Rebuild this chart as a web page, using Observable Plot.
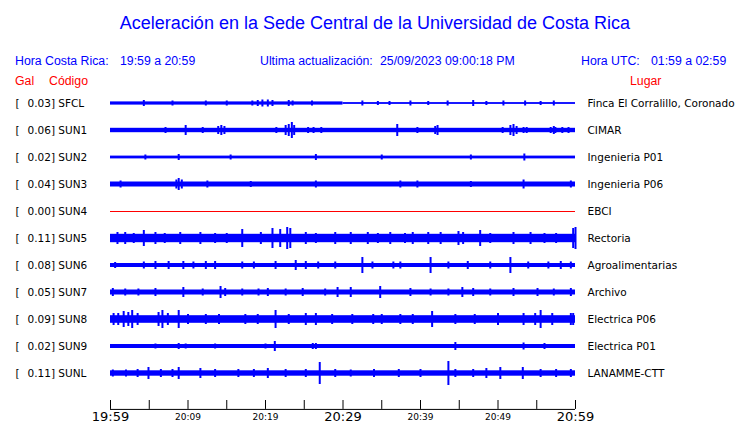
<!DOCTYPE html>
<html>
<head>
<meta charset="utf-8">
<script src="https://cdn.jsdelivr.net/npm/d3@7"></script>
<script src="https://cdn.jsdelivr.net/npm/@observablehq/plot@0.6"></script>
<style>
  html, body { margin: 0; padding: 0; background: #fff; }
  #wrap { position: relative; width: 740px; height: 423px; overflow: hidden; }
  #wrap svg { position: absolute; left: 0; top: 0; }
  .t { position: absolute; white-space: pre; font-family: "Liberation Sans", Arial, sans-serif; font-size: 12.3px; line-height: 14px; }
  .blue { color: #0000ff; }
  .red { color: #ff0000; }
</style>
</head>
<body>
<div id="wrap">
  <div class="t blue" style="left:0;width:750px;text-align:center;top:13px;font-size:18px;line-height:20px;">Aceleración en la Sede Central de la Universidad de Costa Rica</div>
  <div class="t blue" style="left:15px;top:54px;">Hora Costa Rica:</div>
  <div class="t blue" style="left:120px;top:54px;">19:59 a 20:59</div>
  <div class="t blue" style="left:260px;top:54px;">Ultima actualización:</div>
  <div class="t blue" style="left:380px;top:54px;">25/09/2023 09:00:18 PM</div>
  <div class="t blue" style="left:581px;top:54px;">Hora UTC:</div>
  <div class="t blue" style="left:651px;top:54px;">01:59 a 02:59</div>
  <div class="t red" style="left:15px;top:74px;">Gal</div>
  <div class="t red" style="left:49px;top:74px;">Código</div>
  <div class="t red" style="left:630px;top:74px;">Lugar</div>
</div>
<script>
// ---- data ----
const codes = ["SFCL","SUN1","SUN2","SUN3","SUN4","SUN5","SUN6","SUN7","SUN8","SUN9","SUNL"];
const gal = [0.03,0.06,0.02,0.04,0.00,0.11,0.08,0.05,0.09,0.02,0.11];
const places = ["Finca El Corralillo, Coronado","CIMAR","Ingenieria P01","Ingenieria P06","EBCI","Rectoria","Agroalimentarias","Archivo","Electrica P06","Electrica P01","LANAMME-CTT"];
// background amplitude segments: [station, startMinute, endMinute, halfAmplitude]
const baseSegments = [
  ["SFCL",0,30,1.6],["SFCL",30,60,0.9],
  ["SUN1",0,60,2.2],
  ["SUN2",0,60,1.4],
  ["SUN3",0,60,2.5],
  ["SUN5",0,60,4.2],
  ["SUN6",0,60,2.0],
  ["SUN7",0,60,2.5],
  ["SUN8",0,60,3.8],
  ["SUN9",0,60,2.0],
  ["SUNL",0,60,2.7]
];
// flat (dead) channels
const flatStations = ["SUN4"];
// bursts: [minute, amplitude]
const burstsSFCL = [[4.3,3],[8,2.5],[12.3,2.5],[15,2.5],[18.3,2.5],[19.0,3],[19.6,3.5],[20.3,3.5],[20.9,3],[23.0,3],[23.5,2.5],[26,2.5],[32.5,2.5],[34.5,2],[36,2],[38.7,2.5],[41,2],[43.5,2.5],[46.8,3],[48.5,2],[50.7,2.5],[53.5,2.5],[55.5,2],[57.2,2.5]];
const burstsSUN1 = [[7.1,3],[9.7,5],[11.9,3],[13.9,4],[14.3,5],[14.7,4],[21.4,3],[22.6,5],[23.0,6],[23.4,8],[23.7,5],[25.5,3],[26.2,3],[27.2,3],[37.0,6],[39.6,3],[41.9,4],[42.2,5],[50.6,3],[51.6,5],[52.0,6],[52.4,4],[53.3,3],[53.7,3],[56.8,3],[57.2,4],[57.4,3],[58.3,3],[59.1,3]];
const burstsSUN2 = [[4.5,2.5],[8.8,3],[15.5,2.5],[26.5,3],[35,2.5],[46.5,2.5],[53.4,3.5]];
const burstsSUN3 = [[1.3,3.5],[8.5,4.5],[8.8,6],[9.2,4.5],[12.5,3.5],[18.1,3],[26.5,3.5],[37.4,3.5],[39.6,3.5],[46.5,3],[53.3,4.5],[59.4,3.5]];
const burstsSUN5 = [[0.9,6],[1.9,6],[3,5],[4.3,8],[5.8,6],[7,5],[9.0,6],[11.6,6],[13.5,5],[15,5],[17.0,9],[19.4,6],[20.9,10],[21.9,9],[22.8,11],[23.2,10],[25.2,6],[26.5,5],[29.0,6],[31,6],[33.2,6],[34.5,5],[36.1,6],[38,5],[39.0,6],[41.0,6],[42.6,6],[44.9,7],[45.5,6],[47.7,8],[49,5],[52.0,6],[54.2,6],[56,5],[57.5,5],[59.7,10],[60,11]];
const burstsSUN6 = [[0.6,3],[4.3,3.5],[5.8,4],[7.5,4],[9.4,4],[10.7,3.5],[12.3,4],[13.5,4],[17.0,3.5],[18.5,3.5],[21.3,4],[23.9,5],[25.2,4],[26.8,3.5],[29.0,3.5],[32.5,8],[33.8,3.5],[36.5,3.5],[37.4,3.5],[41.3,8],[43.6,3.5],[46.1,4],[49.0,3.5],[51.6,8],[53.9,3.5],[56.5,3.5],[58.1,4],[59.4,3.5]];
const burstsSUN7 = [[0.3,4],[1.9,3.5],[3.6,3.5],[5.8,4],[9.4,5],[11.9,3.5],[14.2,6],[14.8,4],[17.0,3.5],[19.1,3.5],[20.3,4],[22.6,3.5],[24.8,4],[27.7,3.5],[29.3,5],[31.0,5],[34.8,6],[38.7,4],[41.3,3.5],[43.6,3.5],[45.4,5],[46.8,4],[49.0,3.5],[52.0,4],[55.1,4],[57.2,3.5],[59.4,4]];
const burstsSUN8 = [[0.4,6],[1.0,6],[1.7,8],[2.3,7],[2.8,9],[3.5,6],[6.2,7],[6.7,9],[7.4,6],[8.8,9],[10,5],[12.3,5],[14,5],[17.4,5],[19,5],[21.3,9],[23,5],[25.2,6],[26.5,6],[28.6,5],[31.2,5],[33.9,5],[35,5],[37.4,5],[39,5],[41.5,8],[44.5,5],[47,5],[50,6],[53.3,6],[54.8,6],[55.5,9],[57,6],[59.4,6],[59.7,6]];
const burstsSUN9 = [[5.8,2.5],[8.8,3],[9.7,2.5],[13.5,2.5],[20.0,2.5],[21.2,5],[26.1,3],[26.5,3],[44.5,4],[53.3,3.5],[56.0,3]];
const burstsSUNL = [[0.3,3.5],[2,3.5],[3.5,4],[4.9,6],[6.5,4],[8.0,4],[8.8,6],[11.6,5],[13.5,4],[16.5,4],[18.5,4],[20.3,5],[22.6,4],[25.2,4],[27.0,11],[29.0,4],[31.0,3.5],[34,4],[37.2,4],[40,4],[43.6,12],[44.5,4],[46.8,4],[48.5,5],[50.3,6],[53.2,6],[55.5,4],[57.5,4],[59.4,4]];
const burstsByStation = {SFCL: burstsSFCL, SUN1: burstsSUN1, SUN2: burstsSUN2, SUN3: burstsSUN3, SUN5: burstsSUN5, SUN6: burstsSUN6, SUN7: burstsSUN7, SUN8: burstsSUN8, SUN9: burstsSUN9, SUNL: burstsSUNL};
const tickMinutes = [0,5,10,15,20,25,30,35,40,45,50,55,60];
const bigLabels = [[0,"19:59"],[30,"20:29"],[60,"20:59"]];
const smallLabels = [[10,"20:09"],[20,"20:19"],[40,"20:39"],[50,"20:49"]];

// ---- build ----
const ROW_PX = 27;             // pixels per row
const amp = a => a / ROW_PX;   // amplitude (px-equivalent) -> row units
const rowOf = c => codes.indexOf(c);
const stations = codes.map((c, i) => ({code: c, gal: gal[i], place: places[i], row: i}));
const bands = baseSegments.map(([c, s, e, h]) => ({row: rowOf(c), s, e, h}));
const bursts = Object.entries(burstsByStation).flatMap(([c, arr]) => arr.map(([m, a]) => ({row: rowOf(c), m, a})));
const flats = flatStations.map(c => ({row: rowOf(c)}));
const axisRow = 11.33, tickTop = 11.0;

const blue = "#0000ff";
const chart = Plot.plot({
  width: 740, height: 423,
  marginLeft: 110, marginRight: 165, marginTop: 0, marginBottom: 0,
  x: {domain: [0, 60], axis: null},
  y: {domain: [0, 10], range: [103, 373], axis: null},
  style: {fontFamily: "DejaVu Sans", background: "transparent", overflow: "visible"},
  marks: [
    Plot.rect(bands, {x1: "s", x2: "e", y1: d => d.row - amp(d.h), y2: d => d.row + amp(d.h), fill: blue}),
    Plot.ruleX(bursts, {x: "m", y1: d => d.row - amp(d.a), y2: d => d.row + amp(d.a), stroke: blue, strokeWidth: 2}),
    Plot.ruleY(flats, {y: "row", x1: 0, x2: 60, stroke: "#ff0000", strokeWidth: 1}),
    Plot.text(stations, {x: 0, y: "row", text: () => "[", dx: -95, textAnchor: "start", fontSize: 10.5, fill: "#000"}),
    Plot.text(stations, {x: 0, y: "row", text: d => `${d.gal.toFixed(2)}] ${d.code}`, dx: -83, textAnchor: "start", fontSize: 10.5, fill: "#000"}),
    Plot.text(stations, {x: 60, y: "row", text: "place", dx: 12, textAnchor: "start", fontSize: 10.5, fill: "#000"}),
    Plot.ruleY([axisRow], {x1: 0, x2: 60, stroke: "#000", strokeWidth: 1}),
    Plot.ruleX(tickMinutes, {x: d => d, y1: tickTop, y2: axisRow, stroke: "#000", strokeWidth: 1}),
    Plot.text(bigLabels, {x: d => d[0], y: axisRow, text: d => d[1], dy: 7.5, fontSize: 13, fill: "#000"}),
    Plot.text(smallLabels, {x: d => d[0], y: axisRow, text: d => d[1], dy: 8, fontSize: 9, fill: "#000"})
  ]
});
document.getElementById("wrap").prepend(chart);
</script>
</body>
</html>
